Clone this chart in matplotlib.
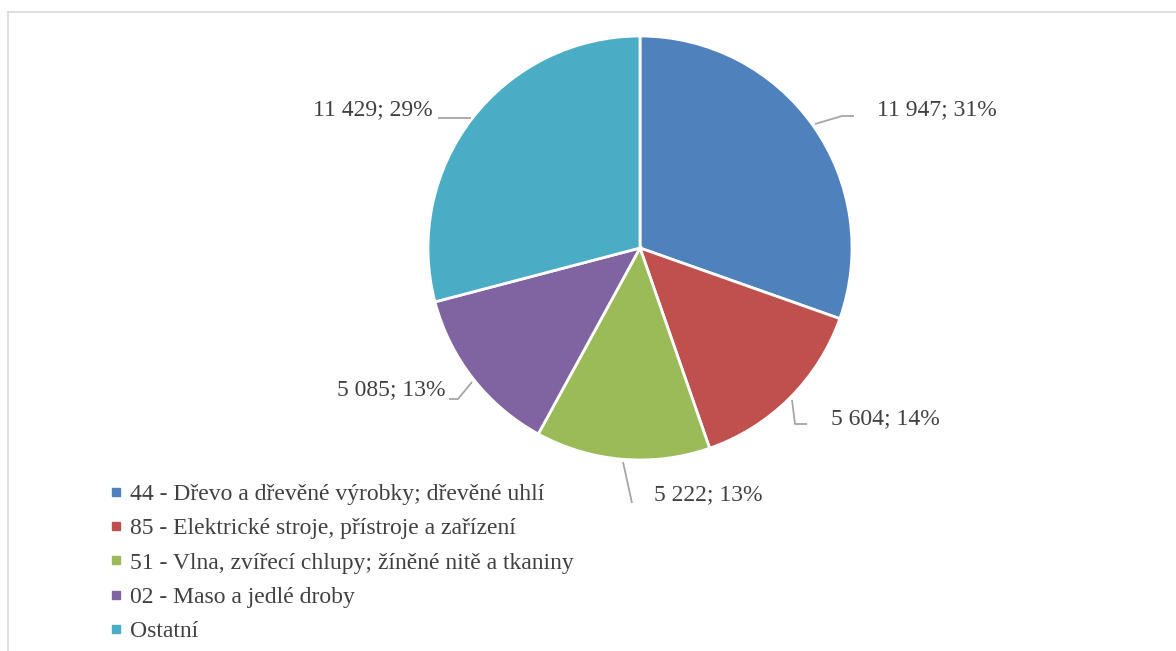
import matplotlib
matplotlib.use('Agg')
import matplotlib.pyplot as plt
from matplotlib.lines import Line2D

plt.rcParams['font.family'] = ['Liberation Serif', 'DejaVu Serif']

# data
categories = ['44 - Dřevo a dřevěné výrobky; dřevěné uhlí',
              '85 - Elektrické stroje, přístroje a zařízení',
              '51 - Vlna, zvířecí chlupy; žíněné nitě a tkaniny',
              '02 - Maso a jedlé droby',
              'Ostatní']
values = [11947, 5604, 5222, 5085, 11429]
pct_labels = ['31%', '14%', '13%', '13%', '29%']

colors = ['#4F81BD', '#C0504D', '#9BBB59', '#8064A2', '#4BACC6']
text_col = '#404040'
lead_col = '#A6A6A6'

# pixel geometry of the picture
W, H = 1176, 651
cx, cy, R = 640, 248, 212


def p2d(px, py):
    return (px - cx) / R, (cy - py) / R


fig = plt.figure(figsize=(W / 100, H / 100), dpi=100)
ax = fig.add_axes([0, 0, 1, 1])

ax.pie(values, colors=colors, startangle=90, counterclock=False,
       radius=1.0, wedgeprops=dict(edgecolor='white', linewidth=2))

ax.set_xlim(-cx / R, (W - cx) / R)
ax.set_ylim((cy - H) / R, cy / R)
ax.set_aspect('auto')
ax.axis('off')

# label positions (pixel), alignment and leader lines
label_pos = [(877, 110, 'left'), (831, 419, 'left'), (654, 495, 'left'),
             (445, 390, 'right'), (433, 110, 'right')]
leaders = [[(815, 124), (842, 116), (854, 116)],
           [(792, 400), (795, 424), (807, 424)],
           [(623, 462), (632, 503)],
           [(449, 399), (458, 399), (472, 382)],
           [(438, 118), (471, 118)]]

for v, pct, (lx, ly, ha), lead in zip(values, pct_labels, label_pos, leaders):
    txt = f'{v:,}'.replace(',', ' ') + '; ' + pct
    x, y = p2d(lx, ly)
    ax.text(x, y, txt, ha=ha, va='center', fontsize=17, color=text_col)
    pts = [p2d(px, py) for px, py in lead]
    ax.plot([p[0] for p in pts], [p[1] for p in pts], color=lead_col,
            linewidth=1.3, solid_capstyle='butt')

# legend
handles = [Line2D([], [], linestyle='none', marker='s', markersize=5.5,
                  markerfacecolor=c, markeredgecolor=c) for c in colors]
fig.legend(handles, categories, loc='upper left',
           bbox_to_anchor=(100 / W, 1 - 474 / H), frameon=False,
           fontsize=17, handlelength=0.55, handletextpad=0.3,
           labelspacing=0.54, labelcolor=text_col, borderaxespad=0)

# chart area border (top and left visible)
fig.add_artist(Line2D([8 / W, 1], [1 - 12 / H, 1 - 12 / H],
                      color='#D9D9D9', linewidth=1.2))
fig.add_artist(Line2D([8 / W, 8 / W], [0, 1 - 12 / H],
                      color='#D9D9D9', linewidth=1.2))

fig.savefig('out.png', dpi=100)
